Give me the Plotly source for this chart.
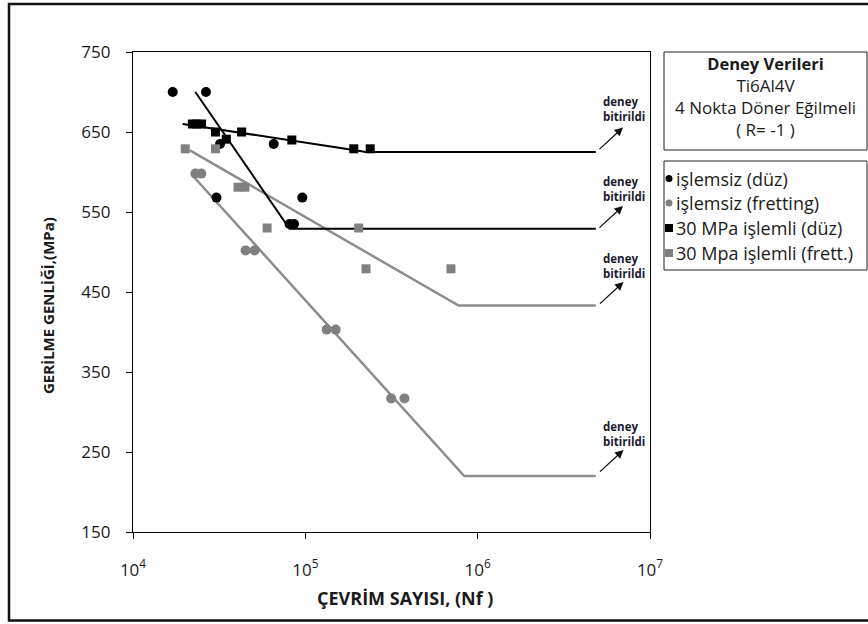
import plotly.graph_objects as go

# ---------------- data ----------------
plain_N = [17000, 26500, 30500, 32000, 65500, 96000, 81000, 86000]
plain_S = [700, 700, 568, 635, 635, 568, 535, 535]

plain_fret_N = [23000, 24900, 45000, 50800, 133000, 150000, 315000, 376000]
plain_fret_S = [598, 598, 502, 502, 403, 403, 317, 317]

treated_N = [22100, 23400, 25000, 30100, 34800, 42700, 83500, 191000, 238000]
treated_S = [660, 660, 660, 650, 641, 650, 640, 629, 629]

treated_fret_N = [20100, 30100, 40700, 44600, 60000, 204000, 225000, 700000]
treated_fret_S = [629, 629, 581, 581, 530, 530, 479, 479]

# trend lines (fitted curve + run-out level)
plain_trend_N = [23000, 81000, 4.85e6]
plain_trend_S = [700, 529, 529]

plain_fret_trend_N = [22300, 836000, 4.85e6]
plain_fret_trend_S = [595, 220, 220]

treated_trend_N = [19400, 30000, 42700, 83500, 150000, 225000, 4.85e6]
treated_trend_S = [660, 654, 649, 639, 631, 625, 625]

treated_fret_trend_N = [21400, 775000, 4.85e6]
treated_fret_trend_S = [627, 433, 433]

x_tick_vals = [1e4, 1e5, 1e6, 1e7]
x_tick_text = ["10<sup>4</sup>", "10<sup>5</sup>", "10<sup>6</sup>", "10<sup>7</sup>"]
y_tick_vals = [150, 250, 350, 450, 550, 650, 750]

series_names = ["işlemsiz (düz)", "işlemsiz (fretting)", "30 MPa işlemli (düz)", "30 Mpa işlemli (frett.)"]
info_lines = ["<b><span style='font-size:16.5px'>Deney Verileri</span></b>", "Ti6Al4V",
              "4 Nokta Döner Eğilmeli", "( R= -1 )"]

# ---------------- layout geometry ----------------
W, H = 868, 624
L, R, T, B = 133, 650, 52, 532  # plot area in page pixels
PW, PH = R - L, B - T

def px(x):
    return (x - L) / PW

def py(y):
    return (B - y) / PH

BLACK = "#000000"
GRAY = "#808080"
GRAY_LINE = "#8c8c8c"
FONT = "Open Sans"
TXT = "#1a1a1a"

fig = go.Figure()

# trend lines
fig.add_trace(go.Scatter(x=plain_fret_trend_N, y=plain_fret_trend_S, mode="lines",
                         line=dict(color=GRAY_LINE, width=2.5), showlegend=False, hoverinfo="skip"))
fig.add_trace(go.Scatter(x=treated_fret_trend_N, y=treated_fret_trend_S, mode="lines",
                         line=dict(color=GRAY_LINE, width=2.5), showlegend=False, hoverinfo="skip"))
fig.add_trace(go.Scatter(x=plain_trend_N, y=plain_trend_S, mode="lines",
                         line=dict(color=BLACK, width=2), showlegend=False, hoverinfo="skip"))
fig.add_trace(go.Scatter(x=treated_trend_N, y=treated_trend_S, mode="lines",
                         line=dict(color=BLACK, width=2), showlegend=False, hoverinfo="skip"))

# data points
fig.add_trace(go.Scatter(x=plain_N, y=plain_S, mode="markers", name=series_names[0],
                         marker=dict(symbol="circle", size=10, color=BLACK), showlegend=False))
fig.add_trace(go.Scatter(x=plain_fret_N, y=plain_fret_S, mode="markers", name=series_names[1],
                         marker=dict(symbol="circle", size=10, color=GRAY), showlegend=False))
fig.add_trace(go.Scatter(x=treated_N, y=treated_S, mode="markers", name=series_names[2],
                         marker=dict(symbol="square", size=9, color=BLACK), showlegend=False))
fig.add_trace(go.Scatter(x=treated_fret_N, y=treated_fret_S, mode="markers", name=series_names[3],
                         marker=dict(symbol="square", size=9, color=GRAY), showlegend=False))

shapes = []
annotations = []

# outer frame
shapes.append(dict(type="rect", xref="paper", yref="paper",
                   x0=px(9), x1=px(880), y0=py(620.5), y1=py(4),
                   line=dict(color="#111111", width=2.5)))

# info box
shapes.append(dict(type="rect", xref="paper", yref="paper",
                   x0=px(664), x1=px(867), y0=py(150), y1=py(52),
                   line=dict(color="#222222", width=1)))
annotations.append(dict(xref="paper", yref="paper", x=px(765.5), y=py(96.5),
                        xanchor="center", yanchor="middle", showarrow=False,
                        text="<br>".join(info_lines),
                        font=dict(family=FONT, size=17, color=TXT)))

# legend box (manual)
shapes.append(dict(type="rect", xref="paper", yref="paper",
                   x0=px(664), x1=px(867), y0=py(270), y1=py(161),
                   line=dict(color="#222222", width=1)))
leg_y = [178.5, 203, 228, 253]
leg_col = [BLACK, GRAY, BLACK, GRAY]
leg_kind = ["circle", "circle", "rect", "rect"]
for name, yy, col, kind in zip(series_names, leg_y, leg_col, leg_kind):
    r = 3.5 if kind == "circle" else 4
    shapes.append(dict(type=kind, xref="paper", yref="paper",
                       x0=px(669 - r), x1=px(669 + r), y0=py(yy + r), y1=py(yy - r),
                       fillcolor=col, line=dict(width=0)))
    annotations.append(dict(xref="paper", yref="paper", x=px(674), y=py(yy),
                            xanchor="left", yanchor="middle", showarrow=False,
                            text=name, font=dict(family=FONT, size=18, color=TXT)))

# "deney bitirildi" notes with arrows
arrow_heads = [(623, 127.5), (623, 206), (623.5, 282), (623.5, 450)]
note_centers = [109, 189, 265.5, 434]
for (hx, hy), ny in zip(arrow_heads, note_centers):
    annotations.append(dict(xref="paper", yref="paper", x=px(hx), y=py(hy),
                            ax=-25, ay=23, text="", showarrow=True,
                            arrowhead=2, arrowsize=1.3, arrowwidth=1.3, arrowcolor="#111111",
                            standoff=0, startstandoff=0))
    annotations.append(dict(xref="paper", yref="paper", x=px(601), y=py(ny),
                            xanchor="left", yanchor="middle", showarrow=False, align="left",
                            text="<b>deney<br>bitirildi</b>",
                            font=dict(family=FONT, size=11.5, color="#1a1a2e")))

# axis titles
annotations.append(dict(xref="paper", yref="paper", x=px(405), y=py(598),
                        xanchor="center", yanchor="middle", showarrow=False,
                        text="<b>ÇEVRİM SAYISI, (Nf )</b>", font=dict(family=FONT, size=18, color=TXT)))
annotations.append(dict(xref="paper", yref="paper", x=px(48), y=py(306),
                        xanchor="center", yanchor="middle", showarrow=False, textangle=-90,
                        text="<b>GERİLME GENLİĞİ,(MPa)</b>", font=dict(family=FONT, size=15, color=TXT)))

fig.update_layout(
    width=W, height=H,
    margin=dict(l=L, r=W - R, t=T, b=H - B, pad=0),
    paper_bgcolor="white", plot_bgcolor="white",
    showlegend=False,
    shapes=shapes, annotations=annotations,
    font=dict(family=FONT, color=TXT),
)
fig.update_xaxes(type="log", range=[4, 7], tickvals=x_tick_vals, ticktext=x_tick_text,
                 ticks="outside", ticklen=6, tickwidth=1, tickcolor="black",
                 showline=True, linecolor="black", linewidth=1.2, mirror=True,
                 showgrid=False, zeroline=False, ticklabelstandoff=16,
                 tickfont=dict(family=FONT, size=17, color=TXT))
fig.update_yaxes(range=[150, 750], tickvals=y_tick_vals,
                 ticks="outside", ticklen=6, tickwidth=1, tickcolor="black",
                 showline=True, linecolor="black", linewidth=1.2, mirror=True,
                 showgrid=False, zeroline=False, ticklabelstandoff=12,
                 tickfont=dict(family=FONT, size=17, color=TXT))

fig.write_html("out.html", config={"displayModeBar": False},
               post_script="document.body.style.margin='0px';document.body.style.overflow='hidden';")
